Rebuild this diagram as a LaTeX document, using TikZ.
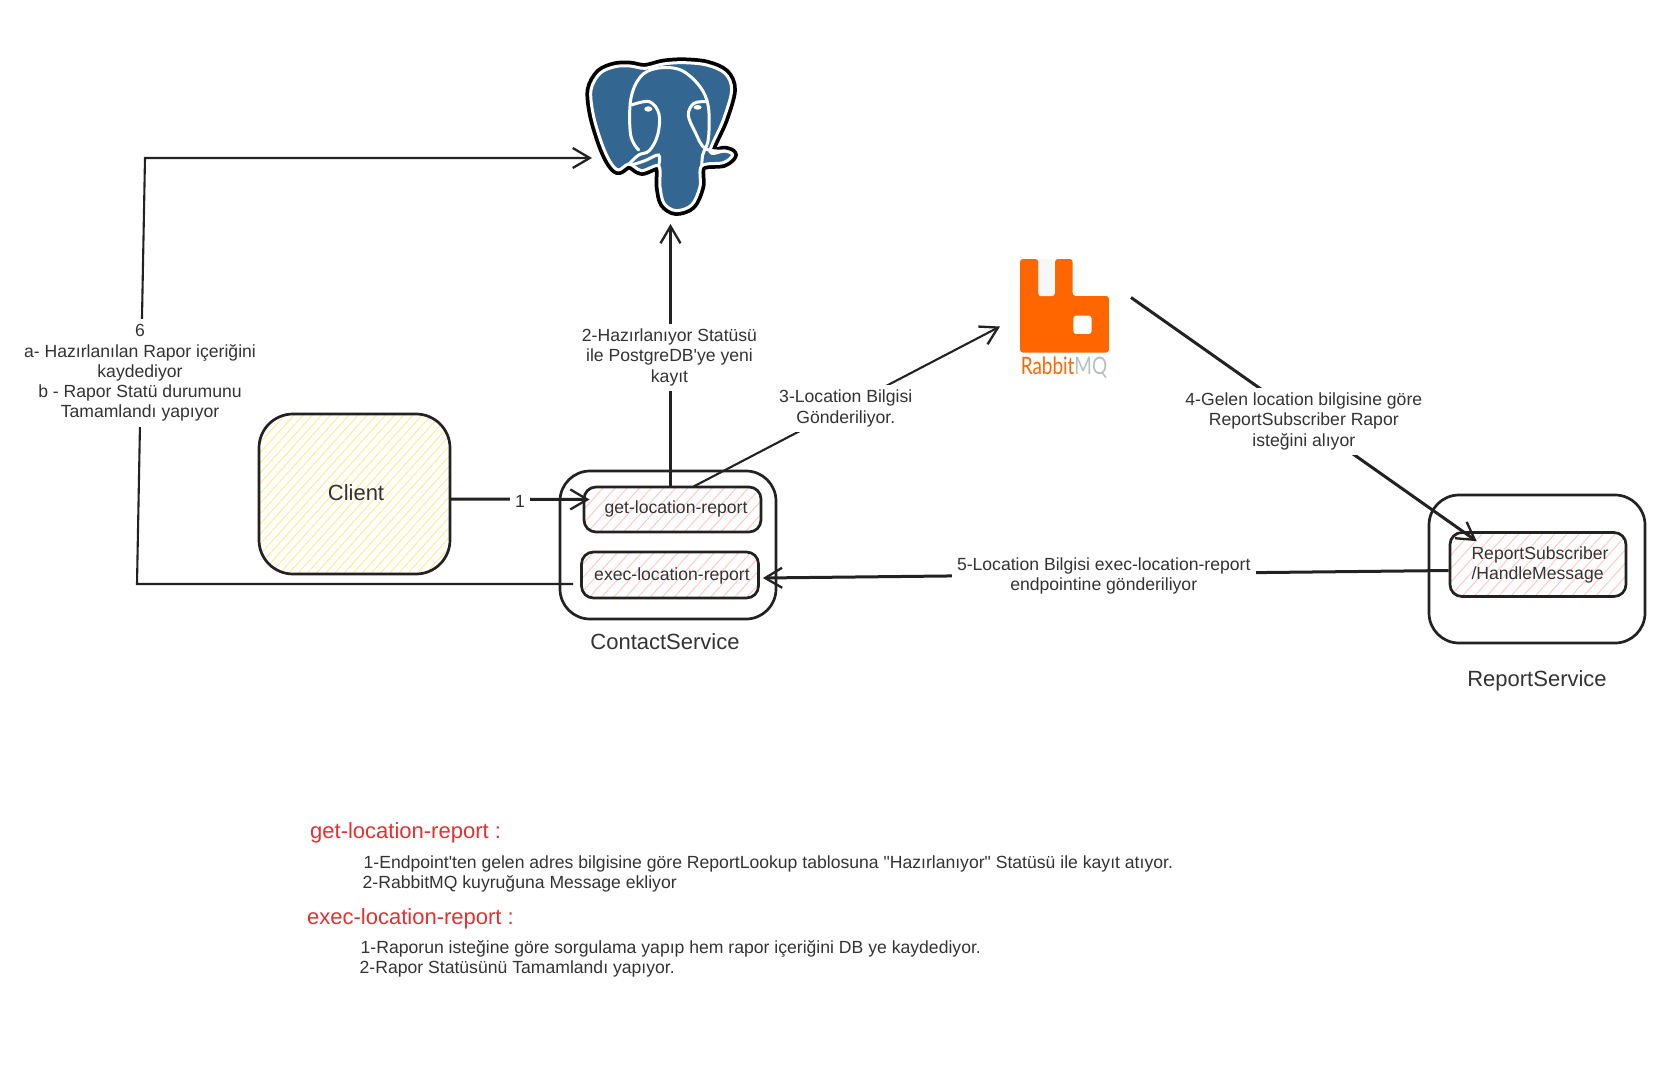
\documentclass[tikz,border=0pt]{standalone}
\usepackage{fontspec}
\setmainfont[Ligatures=TeXOff]{Liberation Sans}
\newfontfamily\logofont[FakeStretch=0.79]{Lato}
\usetikzlibrary{
	calc,
	arrows.meta,
	patterns.meta,
	positioning
	}
\definecolor{encre}{HTML}{222222}
\definecolor{texte}{HTML}{333333}
\definecolor{rouge}{HTML}{E53030}
\definecolor{hach-jaune}{HTML}{FFE98A}
\definecolor{hach-rose}{HTML}{FFC4C4}
\definecolor{pg-bleu}{HTML}{336791}
\definecolor{mq-orange}{HTML}{FF6600}
\definecolor{mq-gris}{HTML}{B4C2BE}
\tikzstyle{box-svc}=[draw=encre,line width=2.7pt,rounded corners=30pt,inner sep=0pt]
\tikzstyle{box-client}=[box-svc,rounded corners=34pt,pattern={Lines[angle=48,distance=6.8pt,line width=.9pt]},pattern color=hach-jaune]
\tikzstyle{box-ep}=[box-svc,rounded corners=12pt,pattern={Lines[angle=48,distance=9pt,line width=.9pt]},pattern color=hach-rose]
\tikzstyle{box-logo}=[inner sep=0pt,outer sep=0pt]
\tikzstyle{txt-std}=[text=texte,inner sep=0pt,yshift=-2pt,font={\fontsize{17.6pt}{20.3pt}\selectfont},align=center]
\tikzstyle{txt-big}=[text=texte,inner sep=0pt,font={\fontsize{22pt}{25pt}\selectfont}]
\tikzstyle{txt-lbl}=[txt-std,fill=white,inner sep=5pt]
\tikzstyle{txt-note}=[txt-std,anchor=west,align=left]
\tikzstyle{txt-red}=[txt-big,anchor=west,text=rouge]
\tikzstyle{fl-std}=[draw=encre,line width=3pt]
\tikzstyle{fl-fine}=[draw=encre,line width=2.1pt]
\tikzstyle{tip-std}=[-{Straight Barb[length=17pt,width=20pt,line width=2.3pt]}]
\newcommand{\mqlogo}[2]{{\logofont{\color{mq-orange}#1}{\color{mq-gris}#2}}}
\newcommand{\pgcontour}{(255,85) (210,78) (165,80) (120,100) (93,150) (100,225) (125,310) (150,365) (175,390) (207,372) (245,392) (296,378) (300,440) (312,490) (348,512) (395,495) (420,440) (425,378) (490,368) (518,345) (495,333) (450,335) (490,240) (515,150) (495,100) (440,75) (370,68) (310,72)}
\begin{document}
\begin{tikzpicture}[x=1pt,y=-1pt]
        \useasboundingbox (0,0) rectangle (1676,1077);
        %
        \node[box-logo, minimum width=146pt, minimum height=166pt] (pg) at (665,141) {};
        \node[box-logo, minimum width=131pt, minimum height=115pt] (mq) at (1065.5,316.5) {};
        % elephant
        \begin{scope}[shift={(560,40)},x=.3333pt,y=-.3333pt]
            \draw[black,line width=10.5pt,line join=round] plot[smooth cycle,tension=.55] coordinates {\pgcontour};
            \draw[white,fill=pg-bleu,line width=3pt,line join=round] plot[smooth cycle,tension=.55] coordinates {\pgcontour};
            \draw[white,line width=3pt,line cap=round] plot[smooth,tension=.6] coordinates {(236,330) (212,285) (212,180) (240,112) (290,85) (362,90) (420,140) (445,200) (446,290) (436,326)};
            \draw[white,line width=3pt,line cap=round] plot[smooth,tension=.6] coordinates {(215,195) (268,185) (297,222) (293,285) (268,332) (236,345) (207,372)};
            \draw[white,line width=3pt,line cap=round] plot[smooth,tension=.6] coordinates {(440,185) (402,190) (385,225) (405,275) (436,326) (495,333)};
            \draw[white,line width=3pt,line cap=round] plot[smooth,tension=.6] coordinates {(215,375) (255,362) (296,345) (296,378)};
            \draw[white,line width=3pt,line cap=round] plot[smooth,tension=.6] coordinates {(436,326) (428,345) (425,378)};
            \fill[white] (265,207) ellipse (12 and 8);
            \fill[white] (413,202) ellipse (12 and 7);
        \end{scope}
        % rabbit
        \begin{scope}[shift={(980,240)},x=.3333pt,y=-.3333pt]
            \fill[mq-orange,rounded corners=3pt] (120,57) -- (175,57) -- (175,168) -- (225,168) -- (225,57) -- (278,57) -- (278,168) -- (387,168) -- (387,338) -- (120,338) -- cycle;
            \fill[white!97!black,rounded corners=2pt] (176,57) -- (176,168) -- (222,168) -- (222,57) -- cycle;
            \fill[white,rounded corners=3pt] (280,227) rectangle (335,282);
        \end{scope}
        \node[box-logo, font={\fontsize{24pt}{24pt}\selectfont}] (mq-txt) at (1064,367) {\mqlogo{Rabbit}{MQ}};
        %
        \node[box-client, minimum width=191pt, minimum height=160pt] (client) at (354.5,494) {};
        \node[txt-big] (client-txt) at (356,493) {Client};
        \node[box-svc, minimum width=216pt, minimum height=148pt] (contact) at (668,545) {};
        \node[box-ep, minimum width=177pt, minimum height=45pt] (get) at (672.5,509.5) {};
        \node[txt-std] (get-txt) at (676,507) {get-location-report};
        \node[box-ep, minimum width=177pt, minimum height=46pt] (exec) at (670,575) {};
        \node[txt-std] (exec-txt) at (672,574) {exec-location-report};
        \node[txt-big, below=13pt, xshift=-3pt] (contact-txt) at (contact.south) {ContactService};
        \node[box-svc, minimum width=216pt, minimum height=148pt] (report) at (1537,569) {};
        \node[box-ep, minimum width=176pt, minimum height=64pt] (sub) at (1538,564.5) {};
        \node[txt-std, align=left] (sub-txt) at (1540,563) {ReportSubscriber\\/HandleMessage};
        \node[txt-big, below=26pt] (report-txt) at (report.south) {ReportService};
        %
        \coordinate (c6-bas) at (137,584);
        \coordinate (c6-haut) at (145,158);
        \draw[fl-std, tip-std] ([yshift=-5pt]client.east) -- node[txt-lbl] (l1) {1} ([xshift=6pt,yshift=10pt]get.west);
        \draw[fl-std, tip-std] ([xshift=-2pt]get.north) -- node[txt-lbl, xshift=-1pt] (l2) {2-Hazırlanıyor Statüsü\\ile PostgreDB'ye yeni\\kayıt} ([xshift=-2pt]get.north |- pg.south);
        \draw[fl-fine, tip-std] ([xshift=21pt]get.north) -- node[txt-lbl, xshift=-1pt] (l3) {3-Location Bilgisi\\Gönderiliyor.} ([yshift=-10pt]mq.west);
        \draw[fl-std, tip-std] ([yshift=19pt]mq.east) -- node[txt-lbl] (l4) {4-Gelen location bilgisine göre\\ReportSubscriber Rapor\\isteğini alıyor} ([xshift=28pt,yshift=-10pt]sub.north west);
        \draw[fl-std, tip-std] ([yshift=-6pt]sub.west) -- node[txt-lbl, xshift=-2pt] (l5) {5-Location Bilgisi exec-location-report\\endpointine gönderiliyor} ([xshift=3pt,yshift=-3pt]exec.east);
        \draw[fl-fine, tip-std] ([xshift=-7pt,yshift=-9pt]exec.west) -- (c6-bas) -- node[txt-lbl, xshift=-1pt] (l6) {6\\a- Hazırlanılan Rapor içeriğini\\kaydediyor\\b - Rapor Statü durumunu\\Tamamlandı yapıyor} (c6-haut) -- ([yshift=-17pt]pg.west);
        %
        \node[txt-red] (n-get) at (310,833) {get-location-report :};
        \node[txt-note] (n-get1) at (363.5,862) {1-Endpoint'ten gelen adres bilgisine göre ReportLookup tablosuna "Hazırlanıyor" Statüsü ile kayıt atıyor.};
        \node[txt-note] (n-get2) at (362.5,882) {2-RabbitMQ kuyruğuna Message ekliyor};
        \node[txt-red] (n-exec) at (307,919) {exec-location-report :};
        \node[txt-note] (n-exec1) at (360.5,947) {1-Raporun isteğine göre sorgulama yapıp hem rapor içeriğini DB ye kaydediyor.};
        \node[txt-note] (n-exec2) at (359.5,967) {2-Rapor Statüsünü Tamamlandı yapıyor.};
\end{tikzpicture}
\end{document}
